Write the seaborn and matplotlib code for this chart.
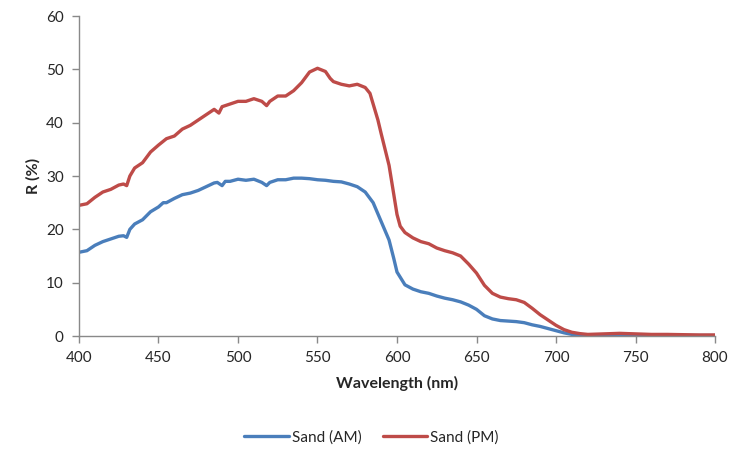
import numpy as np
import pandas as pd
import seaborn as sns
import matplotlib.pyplot as plt

# ------------------------------------------------------------------------------------------------ #
# Reflectance spectra
wavelength_am = [400, 405, 410, 415, 420, 425, 428, 430, 432, 435, 440, 445, 450, 453, 455, 460,
                 465, 470, 475, 480, 485, 487, 490, 492, 495, 500, 505, 510, 515, 518, 520, 525,
                 530, 535, 540, 545, 550, 555, 560, 565, 570, 575, 580, 585, 590, 595, 598, 600,
                 605, 610, 615, 620, 625, 630, 635, 640, 645, 650, 655, 660, 665, 670, 675, 680,
                 685, 690, 695, 700, 705, 710, 715, 720, 730, 740, 750, 760, 770, 780, 790, 800]
sand_am = [15.7, 16.0, 17.0, 17.7, 18.2, 18.7, 18.8, 18.5, 20.0, 21.0, 21.8, 23.3, 24.2, 25.0,
           25.0, 25.8, 26.5, 26.8, 27.3, 28.0, 28.7, 28.8, 28.2, 29.0, 29.0, 29.4, 29.2, 29.4,
           28.8, 28.2, 28.8, 29.3, 29.3, 29.6, 29.6, 29.5, 29.3, 29.2, 29.0, 28.9, 28.5, 28.0,
           27.0, 25.0, 21.5, 18.0, 14.5, 12.0, 9.6, 8.8, 8.3, 8.0, 7.5, 7.1, 6.8, 6.4, 5.8, 5.0,
           3.8, 3.2, 2.9, 2.8, 2.7, 2.5, 2.1, 1.8, 1.4, 1.0, 0.6, 0.3, 0.15, 0.1, 0.1, 0.1, 0.1,
           0.1, 0.1, 0.1, 0.1, 0.1]

wavelength_pm = [400, 405, 410, 415, 420, 425, 428, 430, 432, 435, 440, 445, 450, 455, 460, 465,
                 470, 475, 480, 485, 488, 490, 495, 500, 505, 510, 515, 518, 520, 525, 530, 535,
                 540, 545, 550, 555, 558, 560, 565, 570, 575, 580, 583, 585, 588, 590, 595, 598,
                 600, 602, 605, 610, 615, 620, 625, 630, 635, 640, 645, 650, 655, 660, 665, 670,
                 675, 680, 685, 690, 695, 700, 705, 710, 715, 720, 730, 740, 750, 760, 770, 780,
                 790, 800]
sand_pm = [24.5, 24.8, 26.0, 27.0, 27.5, 28.3, 28.5, 28.2, 30.0, 31.5, 32.5, 34.5, 35.8, 37.0,
           37.5, 38.8, 39.5, 40.5, 41.5, 42.5, 41.8, 43.0, 43.5, 44.0, 44.0, 44.5, 44.0, 43.2,
           44.0, 45.0, 45.0, 46.0, 47.5, 49.5, 50.2, 49.6, 48.3, 47.7, 47.2, 46.9, 47.2, 46.6,
           45.5, 43.5, 40.5, 38.0, 32.0, 26.5, 22.8, 20.6, 19.4, 18.4, 17.7, 17.3, 16.5, 16.0,
           15.6, 15.0, 13.5, 11.8, 9.5, 8.0, 7.3, 7.0, 6.8, 6.3, 5.2, 4.0, 3.0, 2.0, 1.2, 0.7,
           0.45, 0.3, 0.4, 0.5, 0.4, 0.3, 0.3, 0.25, 0.2, 0.2]

series_names = ["Sand (AM)", "Sand (PM)"]
colors = ["#4A7EBB", "#BE4B48"]

# ------------------------------------------------------------------------------------------------ #
df = pd.concat(
    [
        pd.DataFrame({"Wavelength": wavelength_am, "R": sand_am, "Series": series_names[0]}),
        pd.DataFrame({"Wavelength": wavelength_pm, "R": sand_pm, "Series": series_names[1]}),
    ],
    ignore_index=True,
)

sns.set_theme(style="white")
plt.rcParams["font.family"] = ["Lato", "DejaVu Sans"]

fig = plt.figure(figsize=(7.48, 4.5), dpi=100)
ax = fig.add_axes([0.1056, 0.2533, 0.8503, 0.7111])

sns.lineplot(
    data=df,
    x="Wavelength",
    y="R",
    hue="Series",
    palette=colors,
    linewidth=2.4,
    ax=ax,
    estimator=None,
    sort=True,
)

ax.set_xlim(400, 800)
ax.set_ylim(0, 60)
ax.set_xticks(np.arange(400, 801, 50))
ax.set_yticks(np.arange(0, 61, 10))
ax.tick_params(axis="both", which="both", direction="out", length=5, width=1,
               color="#898989", labelsize=11, labelcolor="#262626", pad=6)
ax.tick_params(axis="x", bottom=True)
ax.tick_params(axis="y", left=True)

for side in ["top", "right"]:
    ax.spines[side].set_visible(False)
for side in ["left", "bottom"]:
    ax.spines[side].set_color("#898989")
    ax.spines[side].set_linewidth(1)

ax.set_xlabel("Wavelength (nm)", fontsize=11.5, fontweight="bold", color="#262626", labelpad=8)
ax.set_ylabel("R (%)", fontsize=11.5, fontweight="bold", color="#262626", labelpad=4)

leg = ax.legend(
    loc="center",
    bbox_to_anchor=(0.46, -0.316),
    ncol=2,
    frameon=False,
    fontsize=11,
    handlelength=2.9,
    handletextpad=0.2,
    columnspacing=1.4,
)
for text in leg.get_texts():
    text.set_color("#262626")

fig.savefig("out.png", dpi=100)
